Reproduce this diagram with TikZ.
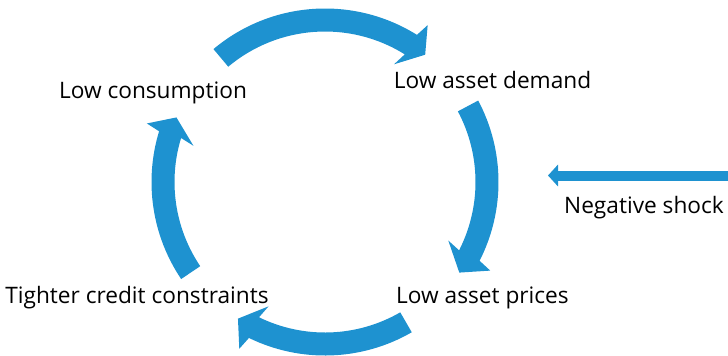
\documentclass[tikz,border=0pt]{standalone}
\usepackage{fontspec}
\setmainfont{Open Sans}
\usetikzlibrary{arrows.meta,calc}
\definecolor{loopblue}{RGB}{30,146,208}

\begin{document}
\begin{tikzpicture}[x=0.75pt,y=0.75pt,
	lbl/.style={font=\fontsize{17pt}{20pt}\selectfont, inner sep=0pt, anchor=base},
	loopfill/.style={fill=loopblue},
	shockline/.style={draw=loopblue, line width=7.5pt, -{Triangle[length=7.5pt,width=16pt]}}]
	\useasboundingbox (0,0) rectangle (728,-355);
	\coordinate (c) at (325,-182);

	\node[lbl] (cons) at (153,-98) {Low consumption};
	\node[lbl] (demand) at (492.5,-88) {Low asset demand};
	\node[lbl] (prices) at (482.5,-303) {Low asset prices};
	\node[lbl] (credit) at (137,-303) {Tighter credit constraints};
	\node[lbl] (shock) at (644,-213) {Negative shock};

	% loop arrows, clockwise: start/base/tip angle
	\foreach \s/\b/\t in {130/58/51.8, 28/-27/-34, -60/-116/-122.5, 214/163/156.5}
		\fill[loopfill] ($(c)+(\s:173.5)$) arc[start angle=\s, end angle=\b, radius=173.5]
			-- ($(c)+(\b-1.2:187.5)$) -- ($(c)+(\t:162)$) -- ($(c)+(\b+1.6:136.5)$)
			-- ($(c)+(\b:150.5)$) arc[start angle=\b, end angle=\s, radius=150.5] -- cycle;

	\coordinate (shk) at (728,-175.5);
	\coordinate (shktip) at (548,-175.5);
	\draw[shockline] (shk) -- (shktip);

\end{tikzpicture}
\end{document}
